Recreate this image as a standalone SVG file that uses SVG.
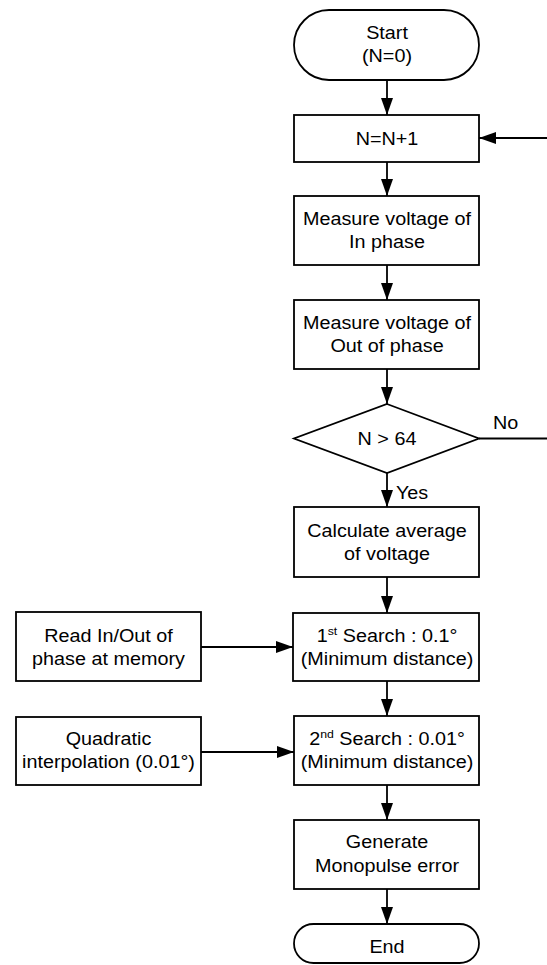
<svg xmlns="http://www.w3.org/2000/svg" width="547" height="965" viewBox="0 0 547 965">
<style>
.n{fill:#fff;stroke:#000;stroke-width:1.8}
.c{fill:none;stroke:#000;stroke-width:1.8}
text{font-family:"Liberation Sans",Arial,sans-serif;font-size:18.5px;fill:#000;text-anchor:middle}
.l{text-anchor:start}
.sup{font-size:11.5px}
</style>
<defs>
<marker id="ah" markerUnits="userSpaceOnUse" markerWidth="17" markerHeight="13" refX="17" refY="6.5" orient="auto">
<path d="M0,0.5 L17,6.5 L0,12.5 z" fill="#000"/>
</marker>
</defs>
<rect width="547" height="965" fill="#fff"/>
<g id="connectors">
<line class="c" x1="387" y1="80" x2="387" y2="115" marker-end="url(#ah)"/>
<line class="c" x1="387" y1="162" x2="387" y2="196" marker-end="url(#ah)"/>
<line class="c" x1="387" y1="265" x2="387" y2="300" marker-end="url(#ah)"/>
<line class="c" x1="387" y1="369" x2="387" y2="404" marker-end="url(#ah)"/>
<line class="c" x1="387" y1="473" x2="387" y2="507" marker-end="url(#ah)"/>
<line class="c" x1="387" y1="577" x2="387" y2="613" marker-end="url(#ah)"/>
<line class="c" x1="387" y1="681" x2="387" y2="716" marker-end="url(#ah)"/>
<line class="c" x1="387" y1="785" x2="387" y2="820" marker-end="url(#ah)"/>
<line class="c" x1="387" y1="889" x2="387" y2="924" marker-end="url(#ah)"/>
<line class="c" x1="201" y1="647" x2="293" y2="647" marker-end="url(#ah)"/>
<line class="c" x1="201" y1="752" x2="294" y2="752" marker-end="url(#ah)"/>
<line class="c" x1="549" y1="138" x2="479" y2="138" marker-end="url(#ah)"/>
<line class="c" x1="479" y1="438.5" x2="549" y2="438.5"/>
<text class="l" transform="matrix(1.07 0 0 1 493 429)">No</text>
<text class="l" transform="matrix(1.07 0 0 1 396 499)">Yes</text>
</g>
<g id="start">
<rect class="n" x="294" y="10" width="185" height="70" rx="35"/>
<text transform="matrix(1.07 0 0 1 387 39)">Start</text>
<text transform="matrix(1.07 0 0 1 387 62)">(N=0)</text>
</g>
<g id="inc">
<rect class="n" x="294" y="115" width="185" height="47"/>
<text transform="matrix(1.07 0 0 1 387 145)">N=N+1</text>
</g>
<g id="measIn">
<rect class="n" x="294" y="196" width="185" height="69"/>
<text transform="matrix(1.07 0 0 1 387 225)">Measure voltage of</text>
<text transform="matrix(1.07 0 0 1 387 248)">In phase</text>
</g>
<g id="measOut">
<rect class="n" x="294" y="300" width="185" height="69"/>
<text transform="matrix(1.07 0 0 1 387 329)">Measure voltage of</text>
<text transform="matrix(1.07 0 0 1 387 352)">Out of phase</text>
</g>
<g id="decision">
<polygon class="n" points="387,404 479,438.5 387,473 294,438.5"/>
<text transform="matrix(1.07 0 0 1 387 445)">N &gt; 64</text>
</g>
<g id="calc">
<rect class="n" x="294" y="507" width="185" height="70"/>
<text transform="matrix(1.07 0 0 1 387 537)">Calculate average</text>
<text transform="matrix(1.07 0 0 1 387 560)">of voltage</text>
</g>
<g id="search1">
<rect class="n" x="293" y="613" width="186" height="68"/>
<text transform="matrix(1.07 0 0 1 387 642)">1<tspan class="sup" dy="-7">st</tspan><tspan dy="7"> Search : 0.1°</tspan></text>
<text transform="matrix(1.07 0 0 1 387 665)">(Minimum distance)</text>
</g>
<g id="search2">
<rect class="n" x="294" y="716" width="185" height="69"/>
<text transform="matrix(1.07 0 0 1 387 745)">2<tspan class="sup" dy="-7">nd</tspan><tspan dy="7"> Search : 0.01°</tspan></text>
<text transform="matrix(1.07 0 0 1 387 768)">(Minimum distance)</text>
</g>
<g id="readMem">
<rect class="n" x="16" y="612" width="185" height="69"/>
<text transform="matrix(1.07 0 0 1 108.5 642)">Read In/Out of</text>
<text transform="matrix(1.07 0 0 1 108.5 665)">phase at memory</text>
</g>
<g id="quad">
<rect class="n" x="16" y="717" width="185" height="68"/>
<text transform="matrix(1.07 0 0 1 108.5 745)">Quadratic</text>
<text transform="matrix(1.07 0 0 1 108.5 768)">interpolation (0.01°)</text>
</g>
<g id="gen">
<rect class="n" x="294" y="820" width="185" height="69"/>
<text transform="matrix(1.07 0 0 1 387 848)">Generate</text>
<text transform="matrix(1.07 0 0 1 387 872)">Monopulse error</text>
</g>
<g id="end">
<rect class="n" x="294" y="924" width="185" height="39" rx="19.5"/>
<text transform="matrix(1.07 0 0 1 387 953)">End</text>
</g>
</svg>
